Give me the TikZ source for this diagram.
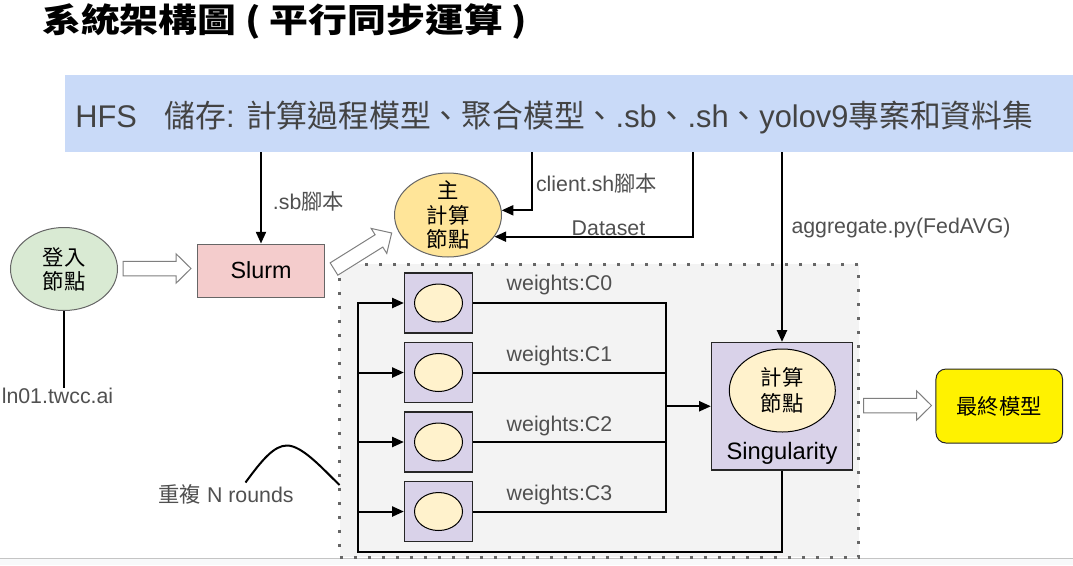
\documentclass[tikz,border=0pt]{standalone}
\usepackage{fontspec}
\usepackage{graphicx}
\setmainfont{Liberation Sans}
\newfontfamily\cjk{Noto Sans CJK TC}
\usetikzlibrary{shapes.geometric,arrows.meta}
\definecolor{hfsblue}{HTML}{C9DAF8}
\definecolor{logingreen}{HTML}{D9EAD3}
\definecolor{slurmpink}{HTML}{F4CCCC}
\definecolor{mainyellow}{HTML}{FFE599}
\definecolor{lightyellow}{HTML}{FFF2CC}
\definecolor{lavender}{HTML}{D9D2E9}
\definecolor{panelgray}{HTML}{F3F3F3}
\definecolor{labelgray}{HTML}{505050}
\definecolor{hfstext}{HTML}{434343}
\definecolor{nodegray}{HTML}{666666}
\definecolor{arrowgray}{HTML}{7F7F7F}
\definecolor{dotgray}{HTML}{666666}
\definecolor{bottomgray}{HTML}{F8F9FA}
\definecolor{rulegray}{HTML}{C4C4C4}
\tikzset{
  lbl/.style={inner sep=0pt, text=labelgray, font=\fontsize{16}{19}\selectfont},
  conn/.style={line width=1.5pt, draw=black},
  arr/.style={conn, -{Triangle[length=8.75pt,width=7.5pt]}},
  hollowarrow/.pic={
    \draw[draw=arrowgray, fill=white, line width=0.75pt, line join=miter]
      (0,-7.25) -- (53,-7.25) -- (53,-14.75) -- (68,0) -- (53,14.75) -- (53,7.25) -- (0,7.25) -- cycle;
  },
  worker/.style={rectangle, draw=black!85, fill=lavender, line width=1pt,
    minimum width=51pt, minimum height=45pt, inner sep=0pt},
  workeroval/.style={ellipse, draw=black, fill=lightyellow, line width=0.75pt,
    minimum width=36pt, minimum height=28.5pt, inner sep=0pt},
  cjklines/.style={font=\cjk\fontsize{16}{#1}\selectfont, align=center, inner sep=0pt},
}
\begin{document}
\begin{tikzpicture}[x=0.75pt,y=-0.75pt]
\useasboundingbox (0,0) rectangle (1073,565);
\fill[white] (0,0) rectangle (1073,565);
\fill[bottomgray] (0,558.5) rectangle (1073,565);
\draw[line width=0.75pt, rulegray] (0,558.5) -- (1073,558.5);

% title
\node[anchor=west, inner sep=0pt] (title) at (42,21)
  {\resizebox{363.75pt}{\height}{\cjk\bfseries\fontsize{25}{30}\selectfont 系統架構圖 ( 平行同步運算 )}};

% HFS bar
\node[rectangle, fill=hfsblue, minimum width=756pt, minimum height=57.75pt, inner sep=0pt] (hfs) at (569,113.5) {};
\node[anchor=west, inner sep=0pt, text=hfstext] (hfslabel) at (75,118)
  {\resizebox{718.5pt}{\height}{\fontsize{23.5}{28}\selectfont HFS\hspace{0.9em}{\cjk 儲存}: {\cjk 計算過程模型、聚合模型、}.sb{\cjk 、}.sh{\cjk 、}yolov9{\cjk 專案和資料集}}};

% panel
\node[rectangle, draw=dotgray, fill=panelgray, line width=2.25pt, dash pattern=on 2.25pt off 8.25pt,
  minimum width=388.9pt, minimum height=219.75pt, inner sep=0pt] (panel) at (599.25,410.5) {};

% login
\node[ellipse, draw=nodegray, fill=logingreen, line width=0.75pt, minimum width=80.25pt,
  minimum height=62.25pt, inner sep=0pt,
  label={[cjklines=18]center:登入\\節點}] (login) at (64,269) {};
\node[lbl] (ln) at (57.5,396) {ln01.twcc.ai};
\draw[conn] (login.south) -- (login.south |- ln.north);

% slurm
\node[rectangle, draw=nodegray, fill=slurmpink, line width=0.75pt, minimum width=95.25pt,
  minimum height=39.75pt, inner sep=0pt, font=\fontsize{17.5}{20}\selectfont] (slurm) at (261,270.5) {Slurm};

% main compute node
\node[ellipse, draw=nodegray, fill=mainyellow, line width=0.75pt, minimum width=80.25pt,
  minimum height=63pt, inner sep=0pt,
  label={[cjklines=18.2]center:主\\計算\\節點}] (main) at (448,215) {};

% hollow (block) arrows
\coordinate (a1) at (123,268.5);
\coordinate (a2) at (334,269);
\coordinate (a3) at (863.5,405.5);
\pic at (a1) {hollowarrow};
\pic[rotate=32] at (a2) {hollowarrow};
\pic at (a3) {hollowarrow};

% workers
\node[worker] (w0) at (438.5,303) {};
\node[workeroval] (e0) at (w0) {};
\node[worker] (w1) at (438.5,372.5) {};
\node[workeroval] (e1) at (w1) {};
\node[worker] (w2) at (438.5,442) {};
\node[workeroval] (e2) at (w2) {};
\node[worker] (w3) at (438.5,511.5) {};
\node[workeroval] (e3) at (w3) {};

% singularity
\node[rectangle, draw=black!85, fill=lavender, line width=1pt, minimum width=105.75pt,
  minimum height=95.6pt, inner sep=0pt] (sing) at (782,406.25) {};
\node[ellipse, draw=black, fill=lightyellow, line width=0.75pt, minimum width=79.5pt,
  minimum height=62.25pt, inner sep=0pt, label={[cjklines=19.5]center:計算\\節點}] (singoval) at (782.3,390.5) {};
\node[inner sep=0pt, font=\fontsize{17.8}{20}\selectfont] (singlabel) at (782,453) {Singularity};

% final model
\node[rectangle, rounded corners=7.5pt, draw=black!85, fill=yellow, line width=0.75pt,
  minimum width=94.9pt, minimum height=55.5pt, font=\cjk\fontsize{16}{19}\selectfont] (final) at (999.25,406) {最終模型};

% connectors from HFS
\draw[arr] (hfs.south -| slurm.north) -- (slurm.north);
\coordinate (clientx) at (532,0);
\draw[arr] (clientx |- hfs.south) |- (main.5);
\coordinate (datax) at (692.5,0);
\draw[arr] (datax |- hfs.south) |- (main.-25);
\draw[arr] (hfs.south -| sing.north) -- (sing.north);

% labels
\node[lbl] (sbl) at (308.5,201.5) {.sb{\cjk 腳本}};
\node[lbl] (clientl) at (596.5,183) {client.sh{\cjk 腳本}};
\node[lbl] (datal) at (608.5,228) {Dataset};
\node[lbl] (aggl) at (901,228) {aggregate.py(FedAVG)};

% collector
\path (sing.west) ++(-45,0) coordinate (coll);
\draw[conn] (w0.east) -| (coll);
\draw[conn] (w3.east) -| (coll);
\draw[conn] (w1.east) -- (w1.east -| coll);
\draw[conn] (w2.east) -- (w2.east -| coll);
\draw[arr] (coll) -- (sing.west);

\node[lbl] (c0) at (559.5,285) {weights:C0};
\node[lbl] (c1) at (559.5,356) {weights:C1};
\node[lbl] (c2) at (559.5,425.5) {weights:C2};
\node[lbl] (c3) at (559.5,495) {weights:C3};

% feedback loop
\coordinate (fb) at (357.5,551.5);
\draw[arr] (sing.south) |- (fb) |- (w0.west);
\draw[arr] (fb |- w1.west) -- (w1.west);
\draw[arr] (fb |- w2.west) -- (w2.west);
\draw[arr] (fb |- w3.west) -- (w3.west);

% repeat curve
\draw[line width=1.5pt] (245.5,482.5) .. controls (262,460) and (274,445.5) .. (287,445.5)
  .. controls (302,445.5) and (322,468) .. (339.5,485);
\node[lbl] (rep) at (226,494) {{\cjk 重複} N rounds};
\end{tikzpicture}
\end{document}
